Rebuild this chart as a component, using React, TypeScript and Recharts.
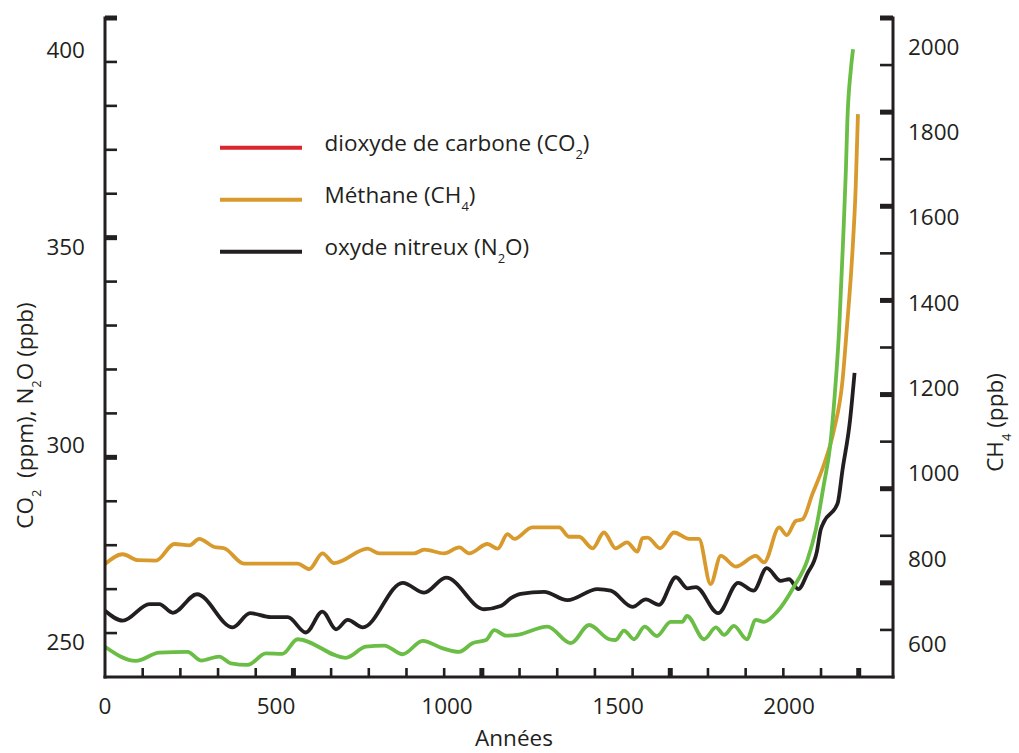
import React from 'react';
import { LineChart, Line, XAxis, YAxis, Legend } from 'recharts';

// CO2 (ppm), green curve
const co2Years = [0, 82, 144, 219, 255, 303, 334, 379, 427, 471, 511, 639, 692, 741, 790, 843, 896, 940, 975, 1011, 1033, 1064, 1095, 1174, 1236, 1285, 1338, 1355, 1377, 1404, 1432, 1464, 1501, 1532, 1544, 1590, 1621, 1643, 1669, 1703, 1727, 1749, 1784, 1828, 1864, 1886, 1908, 1924, 1936, 1948, 1959, 1966, 1970, 1979, 1985];
const co2Values = [248.8, 245.2, 247.3, 247.5, 245.3, 246.3, 244.6, 244.2, 247.1, 247.0, 250.7, 246.0, 248.8, 249.1, 246.9, 250.3, 248.4, 247.5, 249.7, 250.5, 253.0, 251.6, 251.8, 253.9, 249.7, 254.3, 250.7, 250.5, 252.9, 250.7, 253.9, 251.5, 255.1, 255.1, 256.6, 250.7, 253.7, 251.8, 254.1, 250.7, 255.6, 255.1, 257.7, 264.0, 270.8, 278.4, 290.2, 299.5, 312.1, 329.0, 352.7, 369.6, 382.3, 394.9, 400.2];

// CH4 (ppb), orange curve, right axis
const ch4Years = [0, 47, 87, 135, 184, 224, 250, 290, 316, 369, 440, 511, 542, 577, 608, 697, 728, 820, 847, 900, 940, 966, 1015, 1042, 1068, 1086, 1134, 1205, 1232, 1258, 1294, 1324, 1355, 1385, 1413, 1426, 1440, 1473, 1510, 1550, 1576, 1607, 1634, 1674, 1727, 1749, 1789, 1809, 1833, 1851, 1877, 1908, 1934, 1957, 1968, 1983, 1992, 1998];
const ch4Values = [787, 810, 796, 795, 834, 831, 846, 827, 824, 788, 788, 788, 775, 812, 789, 823, 812, 812, 821, 812, 826, 812, 834, 823, 857, 846, 873, 873, 851, 851, 824, 861, 824, 838, 816, 848, 849, 824, 861, 846, 846, 740, 806, 781, 806, 791, 873, 855, 888, 892, 951, 1021, 1100, 1217, 1334, 1514, 1670, 1842];

// N2O (ppb), black curve
const n2oYears = [0, 47, 118, 144, 180, 244, 339, 385, 440, 485, 533, 577, 613, 644, 684, 790, 847, 905, 1006, 1050, 1077, 1103, 1165, 1227, 1307, 1342, 1400, 1435, 1470, 1515, 1546, 1568, 1627, 1680, 1721, 1756, 1793, 1815, 1840, 1864, 1889, 1899, 1908, 1944, 1957, 1977, 1989];
const n2oValues = [257.9, 255.4, 259.6, 259.6, 257.4, 262.1, 253.7, 257.3, 256.3, 256.3, 252.4, 257.7, 253.2, 255.6, 253.7, 265.0, 262.5, 266.3, 258.3, 259.1, 261.1, 262.2, 262.7, 260.6, 263.4, 263.0, 258.9, 260.8, 259.4, 266.4, 263.6, 263.9, 257.3, 265.0, 263.0, 268.7, 265.5, 265.9, 263.4, 267.4, 272.9, 278.4, 280.5, 285.1, 293.6, 306.2, 318.2];

// tick labels and tick marks
const yearLabels = [0, 500, 1000, 1500, 2000];
const yearMarks = [100, 200, 300, 400, 500, 600, 700, 800, 900, 1000, 1100, 1200, 1300, 1400, 1500, 1600, 1700, 1800, 1900, 2000];
const gasLabels = [250, 300, 350, 400];
const gasMarks = [1, 2, 3, 4, 5, 6, 7, 8, 9, 10, 11, 12, 13, 14, 15];
const ch4Labels = [600, 800, 1000, 1200, 1400, 1600, 1800, 2000];
const ch4Marks = [1, 2, 3, 4, 5, 6, 7, 8, 9, 10, 11, 12, 13, 14];

// legend text: [before subscript, subscript, after]
const legendNames = [
  ['dioxyde de carbone (CO', '2', ')'],
  ['Méthane (CH', '4', ')'],
  ['oxyde nitreux (N', '2', 'O)'],
];

const FONT = '"Open Sans", sans-serif';
const INK = '#231f20';
const GREEN = '#6abd45';
const ORANGE = '#d89a2c';
const RED = '#d9262f';
const legendColors = [RED, ORANGE, INK];

const co2Data = co2Years.map((year, i) => ({ year, v: co2Values[i] }));
const ch4Data = ch4Years.map((year, i) => ({ year, v: ch4Values[i] }));
const n2oData = n2oYears.map((year, i) => ({ year, v: n2oValues[i] }));

const tickText = { fill: INK, fontSize: 22.5, fontFamily: FONT };
const axisStroke = { stroke: INK, strokeWidth: 3, strokeLinecap: 'square' as const };

function BottomMark(props: any) {
  const { x, y, payload } = props;
  const major = payload.value % 500 === 0;
  return <line x1={x} x2={x} y1={y} y2={y - 9} stroke={INK} strokeWidth={major ? 5 : 2.6} />;
}

function LeftMark(props: any) {
  const { x, y, payload } = props;
  const major = payload.value % 5 === 0;
  return <line x1={x} x2={x + 12} y1={y} y2={y} stroke={INK} strokeWidth={major ? 5 : 2.6} />;
}

function RightMark(props: any) {
  const { x, y, payload } = props;
  const major = payload.value % 2 === 0;
  return <line x1={x} x2={x - 13} y1={y} y2={y} stroke={INK} strokeWidth={major ? 5 : 2.6} />;
}

function GasTitle(props: any) {
  const vb = props.viewBox;
  const cx = vb.x + 33;
  const cy = vb.y + vb.height / 2 + 68;
  return (
    <text x={cx} y={cy} transform={`rotate(-90 ${cx} ${cy})`} textAnchor="middle" fill={INK}
      fontSize={22.5} fontFamily={FONT} style={{ whiteSpace: 'pre' }}>
      CO<tspan fontSize={13} dy={8}>2</tspan>
      <tspan dy={-8}>{'  (ppm), N'}</tspan>
      <tspan fontSize={13} dy={8}>2</tspan>
      <tspan dy={-8}>O (ppb)</tspan>
    </text>
  );
}

function Ch4Title(props: any) {
  const vb = props.viewBox;
  const cx = vb.x + 110;
  const cy = vb.y + vb.height / 2 + 75;
  return (
    <text x={cx} y={cy} transform={`rotate(-90 ${cx} ${cy})`} textAnchor="middle" fill={INK}
      fontSize={22.5} fontFamily={FONT} style={{ whiteSpace: 'pre' }}>
      CH<tspan fontSize={13} dy={8}>4</tspan>
      <tspan dy={-8}>{' (ppb)'}</tspan>
    </text>
  );
}

function YearTitle(props: any) {
  const vb = props.viewBox;
  return (
    <text x={vb.x + vb.width / 2 + 15} y={vb.y + 69} textAnchor="middle" fill={INK} fontSize={22.5} fontFamily={FONT}>
      Années
    </text>
  );
}

function LegendBox() {
  return (
    <svg width={420} height={160} style={{ display: 'block' }}>
      {legendNames.map((parts, i) => {
        const y = 27.7 + i * 52;
        return (
          <g key={i}>
            <line x1={10} x2={92} y1={y} y2={y} stroke={legendColors[i]} strokeWidth={4} />
            <text x={114.5} y={y + 3} fontSize={22.5} fontFamily={FONT} fill={INK}>
              {parts[0]}
              <tspan fontSize={13} dy={8}>{parts[1]}</tspan>
              <tspan dy={-8}>{parts[2]}</tspan>
            </text>
          </g>
        );
      })}
    </svg>
  );
}

export default function App() {
  return (
    <div>
      <style>{'body{margin:0;overflow:hidden}'}</style>
      <LineChart width={1019} height={753} margin={{ top: 18, right: 0, bottom: 0, left: 0 }} style={{ fontFamily: FONT }}>
        {/* labelled scales */}
        <XAxis xAxisId="lbl" dataKey="year" type="number" domain={[0, 2304]} allowDataOverflow ticks={yearLabels} interval={0}
          height={76} axisLine={false} tickLine={false} tickSize={0} tickMargin={21} tick={tickText}
          label={{ content: (p: any) => <YearTitle {...p} /> }} />
        <YAxis yAxisId="gas" type="number" domain={[241.13, 408.1]} allowDataOverflow ticks={gasLabels} interval={0}
          width={105} axisLine={false} tickLine={false} tickSize={0} tickMargin={20} tick={tickText}
          label={{ content: (p: any) => <GasTitle {...p} /> }} />
        <YAxis yAxisId="ch4" orientation="right" type="number" domain={[522.2, 2067.3]} allowDataOverflow ticks={ch4Labels} interval={0}
          width={126} axisLine={false} tickLine={false} tickSize={0} tickMargin={15} tick={tickText}
          label={{ content: (p: any) => <Ch4Title {...p} /> }} />

        {/* frame with inward tick marks */}
        <XAxis xAxisId="yr" dataKey="year" type="number" domain={[0, 2091]} allowDataOverflow ticks={yearMarks} interval={0}
          mirror height={1} axisLine={axisStroke} tickLine={false} tickSize={0} tickMargin={0} tick={<BottomMark />} />
        <YAxis yAxisId="lt" type="number" domain={[0, 15]} allowDataOverflow ticks={gasMarks} interval={0}
          mirror width={1} axisLine={axisStroke} tickLine={false} tickSize={0} tickMargin={0} tick={<LeftMark />} />
        <YAxis yAxisId="rt" orientation="right" type="number" domain={[0, 14]} allowDataOverflow ticks={ch4Marks} interval={0}
          mirror width={1} axisLine={axisStroke} tickLine={false} tickSize={0} tickMargin={0} tick={<RightMark />} />

        <Legend layout="horizontal" verticalAlign="middle" align="center"
          wrapperStyle={{ position: 'absolute', left: 210, top: 120, width: 420, height: 160 }}
          content={() => <LegendBox />} />

        {/* invisible series so the label and frame scales get their ticks */}
        <Line xAxisId="lbl" yAxisId="lt" data={co2Data} dataKey="v" stroke="none" strokeWidth={0}
          dot={false} activeDot={false} legendType="none" isAnimationActive={false} />
        <Line xAxisId="lbl" yAxisId="rt" data={co2Data} dataKey="v" stroke="none" strokeWidth={0}
          dot={false} activeDot={false} legendType="none" isAnimationActive={false} />

        <Line xAxisId="yr" yAxisId="ch4" data={ch4Data} dataKey="v" type="monotone" stroke={ORANGE} strokeWidth={3.8}
          dot={false} activeDot={false} isAnimationActive={false} />
        <Line xAxisId="yr" yAxisId="gas" data={n2oData} dataKey="v" type="monotone" stroke={INK} strokeWidth={3.8}
          dot={false} activeDot={false} isAnimationActive={false} />
        <Line xAxisId="yr" yAxisId="gas" data={co2Data} dataKey="v" type="monotone" stroke={GREEN} strokeWidth={3.8}
          dot={false} activeDot={false} isAnimationActive={false} />
      </LineChart>
    </div>
  );
}
